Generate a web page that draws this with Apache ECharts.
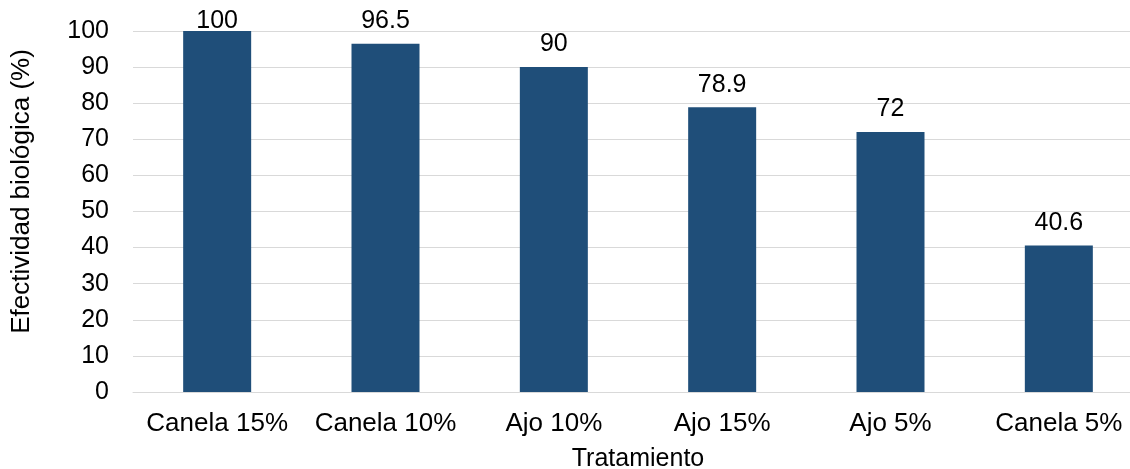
<!DOCTYPE html>
<html>
<head>
<meta charset="utf-8">
<script src="https://cdn.jsdelivr.net/npm/echarts@6/dist/echarts.min.js"></script>
<style>
  html, body { margin: 0; padding: 0; background: #fff; overflow: hidden; }
  #wrap { width: 1130px; height: 469px; overflow: hidden; position: relative; }
  #chart { width: 1143px; height: 469px; position: absolute; left: 0; top: 0; }
</style>
</head>
<body>
<div id="wrap"><div id="chart"></div></div>
<script>
// Efectividad biológica por tratamiento
const categories = ['Canela 15%', 'Canela 10%', 'Ajo 10%', 'Ajo 15%', 'Ajo 5%', 'Canela 5%'];
const efectividad = [100, 96.5, 90, 78.9, 72, 40.6];
const yTicks = [0, 10, 20, 30, 40, 50, 60, 70, 80, 90, 100];

const FONT = '"Liberation Sans", Arial, sans-serif';
const barColor = '#1F4E79';

// the label of a bar reaching the axis top sits tucked down against it
const barData = efectividad.map(v => ({
  value: v,
  label: { distance: v >= yTicks[yTicks.length - 1] ? -3 : 10 }
}));

const chart = echarts.init(document.getElementById('chart'), null, { renderer: 'canvas' });
chart.setOption({
  animation: false,
  backgroundColor: '#ffffff',
  grid: { left: 133, right: 0, top: 31, bottom: 77, containLabel: false, outerBoundsMode: 'none' },
  xAxis: {
    type: 'category',
    data: categories,
    name: 'Tratamiento',
    nameLocation: 'middle',
    nameGap: 55,
    nameTextStyle: { fontFamily: FONT, fontSize: 25, color: '#000' },
    axisLine: { show: true, lineStyle: { color: '#d9d9d9', width: 1 } },
    axisTick: { show: false },
    axisLabel: { fontFamily: FONT, fontSize: 26, color: '#000', margin: 19, interval: 0, hideOverlap: false }
  },
  yAxis: {
    type: 'value',
    min: yTicks[0],
    max: yTicks[yTicks.length - 1],
    interval: yTicks[1] - yTicks[0],
    name: 'Efectividad biológica (%)',
    nameLocation: 'middle',
    nameGap: 98,
    nameRotate: 90,
    // name sits a little above the plot's centre
    nameTextStyle: { fontFamily: FONT, fontSize: 26, color: '#000', padding: [0, 0, 0, 40] },
    axisLine: { show: false },
    axisTick: { show: false },
    axisLabel: { fontFamily: FONT, fontSize: 25, color: '#000', margin: 24 },
    splitLine: { show: true, lineStyle: { color: '#d9d9d9', width: 1 } }
  },
  series: [{
    type: 'bar',
    data: barData,
    barWidth: 68,
    itemStyle: { color: barColor },
    label: {
      show: true,
      position: 'top',
      fontFamily: FONT,
      fontSize: 25,
      color: '#000'
    }
  }]
});
</script>
</body>
</html>
